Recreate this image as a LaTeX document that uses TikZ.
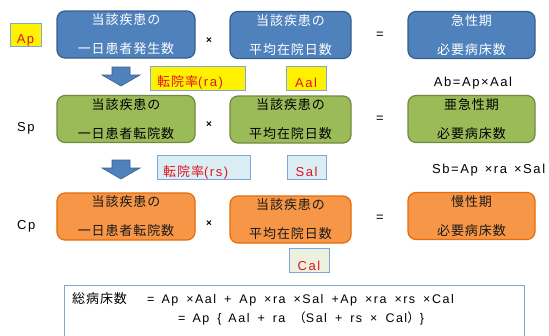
\documentclass[tikz,border=0pt]{standalone}
\usepackage{fontspec}
\setmainfont{Liberation Sans}
\newfontfamily\ls[LetterSpace=12]{Liberation Sans}
\newfontfamily\jp[LetterSpace=7]{Noto Sans CJK JP}
\definecolor{bfill}{HTML}{4F81BD}
\definecolor{bline}{HTML}{385D8A}
\definecolor{gfill}{HTML}{9BBB59}
\definecolor{gline}{HTML}{71893F}
\definecolor{ofill}{HTML}{F79646}
\definecolor{oline}{HTML}{E46C0A}
\definecolor{redt}{HTML}{E0141E}
\definecolor{lblue}{HTML}{DBEEF4}
\definecolor{lgreen}{HTML}{EBF1DE}
\definecolor{frame}{HTML}{7EA6D6}
\tikzset{
  box/.style={rounded corners=8pt, line width=1.2pt, align=center, inner sep=0pt,
    minimum height=47pt, font=\jp\fontsize{13}{29}\selectfont},
  bluebox/.style={box, fill=bfill, draw=bline, text=white},
  greenbox/.style={box, fill=gfill, draw=gline, text=black},
  orangebox/.style={box, fill=ofill, draw=oline, text=black!90},
  wA/.style={minimum width=138pt},
  wB/.style={minimum width=121pt},
  wC/.style={minimum width=127pt},
  lblbox/.style={draw=frame, line width=0.8pt, inner sep=0pt},
  redtxt/.style={text=redt, font=\ls\fontsize{13}{15}\selectfont, inner sep=0pt},
  blk/.style={font=\ls\fontsize{13}{15}\selectfont, inner sep=0pt},
  op/.style={font=\bfseries\fontsize{10}{12}\selectfont, inner sep=0pt},
  frm/.style={font=\ls\fontsize{12.5}{14}\selectfont, inner sep=0pt},
  downarrow/.style={fill=bfill, draw=bline, line width=0.6pt},
}
\newcommand{\gp}{\hspace{8pt}}
\newcommand{\gq}{\hspace{7pt}}
\begin{document}
\begin{tikzpicture}[x=1pt,y=-1pt]
\useasboundingbox (0,0) rectangle (549,335);
\clip (0,0) rectangle (549,335);
% row 1
\node[bluebox,wA] (a1) at (126,34.5) {当該疾患の\\一日患者発生数};
\node[bluebox,wB] (a2) at (290.5,35) {当該疾患の\\平均在院日数};
\node[bluebox,wC] (a3) at (471.5,35) {急性期\\必要病床数};
\node[op] (x1) at (209,41) {×};
\node[blk] (e1) at (380,35) {=};
\node[lblbox, fill=yellow, minimum width=31pt, minimum height=23pt] (apb) at (25.5,34.5) {};
\node[redtxt, anchor=base] (apt) at (25.5,43) {Ap};
% arrow 1
\draw[downarrow] (112,67) -- (130,67) -- (130,75) -- (140,75) -- (121,86) -- (102,75) -- (112,75) -- cycle;
\node[lblbox, fill=yellow, minimum width=95pt, minimum height=24pt] (rab) at (197.5,78) {};
\node[redtxt, anchor=base west] (rat) at (157,86.5) {{\jp 転院率}(ra)};
\node[lblbox, fill=yellow, minimum width=40pt, minimum height=24pt] (aalb) at (306,78) {};
\node[redtxt, anchor=base] (aalt) at (306,87.5) {Aal};
\node[blk, anchor=base] (ab) at (473,86.5) {Ab=Ap×Aal};
% row 2
\node[greenbox,wA] (s1) at (126,119) {当該疾患の\\一日患者転院数};
\node[greenbox,wB] (s2) at (290.5,119.5) {当該疾患の\\平均在院日数};
\node[greenbox,wC] (s3) at (471.5,119) {亜急性期\\必要病床数};
\node[op] (x2) at (209,125) {×};
\node[blk] (e2) at (380,119) {=};
\node[blk, anchor=base west] (sp) at (17,131.5) {Sp};
% arrow 2
\draw[downarrow] (112,160) -- (130,160) -- (130,168) -- (140,168) -- (121,179) -- (102,168) -- (112,168) -- cycle;
\node[lblbox, fill=lblue, minimum width=93pt, minimum height=24pt] (rsb) at (203.5,167) {};
\node[redtxt, anchor=base west] (rst) at (163,176) {{\jp 転院率}(rs)};
\node[lblbox, fill=lblue, minimum width=39pt, minimum height=24pt] (salb) at (306.5,167) {};
\node[redtxt, anchor=base] (salt) at (306.5,176.5) {Sal};
\node[blk, anchor=base west] (sb) at (432,173) {Sb=Ap\hspace{7pt}×ra\hspace{7pt}×Sal};
% row 3
\node[orangebox,wA] (c1) at (126,216.5) {当該疾患の\\一日患者転院数};
\node[orangebox,wB] (c2) at (290.5,219.5) {当該疾患の\\平均在院日数};
\node[orangebox,wC] (c3) at (471.5,216) {慢性期\\必要病床数};
\node[op] (x3) at (209,223.5) {×};
\node[blk] (e3) at (380,218) {=};
\node[blk, anchor=base west] (cp) at (17,229) {Cp};
\node[lblbox, fill=lgreen, minimum width=40pt, minimum height=24pt] (calb) at (309,260) {};
\node[redtxt, anchor=base] (calt) at (309,270.5) {Cal};
% total
\node[draw=frame, line width=0.8pt, minimum width=460pt, minimum height=60pt, inner sep=0pt] (tot) at (294,315) {};
\node[anchor=base west, inner sep=0pt, font=\jp\fontsize{13}{15}\selectfont] (t0) at (72,303) {総病床数};
\node[frm, anchor=base west] (t1) at (147,303) {=\gq Ap\gp ×Aal\gp +\gp Ap\gp ×ra\gp ×Sal\gp +Ap\gp ×ra\gp ×rs\gp ×Cal};
\node[frm, anchor=base west] (t2) at (178,322.5) {=\gq Ap\gp \{\gq Aal\gp +\gp ra\gp {\jp（}Sal\gp +\gp rs\gp ×\gp Cal{\jp）}\}};
\end{tikzpicture}
\end{document}
